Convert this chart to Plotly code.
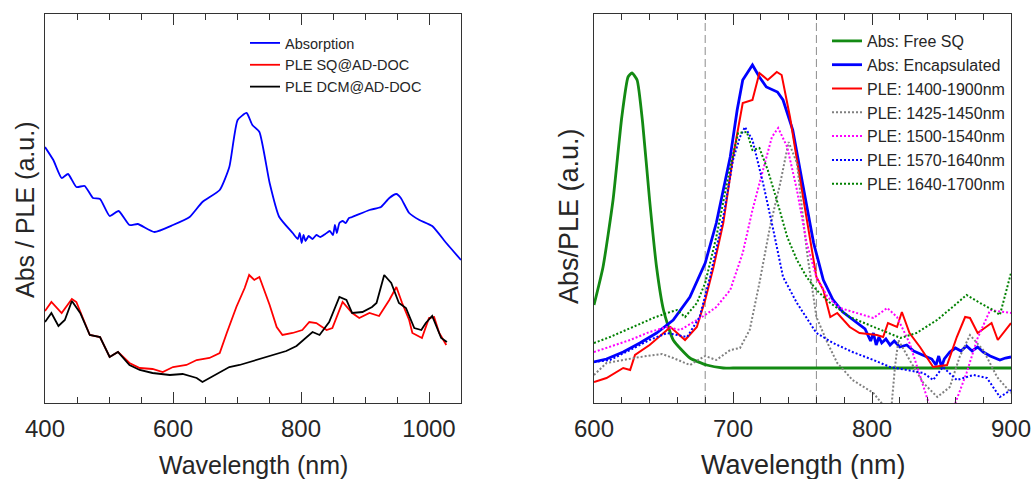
import plotly.graph_objects as go

W, H = 1036, 479

# ---------------- Left panel data ----------------
abs_wl = [400, 413, 426, 436, 449, 462, 475, 486, 501, 515, 532, 545, 571, 600, 626, 646, 673, 688,
          701, 715, 724, 735, 751, 766, 787, 795, 798, 801, 804, 807, 812, 818, 824, 830, 838, 845,
          850, 853, 856, 860, 865, 870, 875, 880, 907, 925, 938, 949, 956, 969, 985, 1005, 1027, 1050]
abs_val = [2.56, 2.43, 2.25, 2.29, 2.16, 2.17, 2.05, 2.04, 1.87, 1.92, 1.78, 1.79, 1.71, 1.78, 1.86, 2.01, 2.13, 2.36,
           2.83, 2.90, 2.78, 2.71, 2.20, 1.86, 1.70, 1.64, 1.70, 1.60, 1.68, 1.62, 1.67, 1.64, 1.68, 1.66, 1.69, 1.72,
           1.68, 1.78, 1.70, 1.80, 1.82, 1.80, 1.85, 1.86, 1.93, 1.96, 2.05, 2.09, 2.05, 1.90, 1.83, 1.77, 1.60, 1.43]

sq_wl = [400, 410, 426, 442, 449, 470, 486, 501, 514, 532, 548, 568, 584, 600, 621, 637, 657, 673, 684, 699,
         712, 719, 727, 735, 751, 762, 771, 787, 802, 813, 824, 840, 849, 865, 880, 891, 907, 922, 938, 949,
         958, 969, 974, 989, 1000, 1008, 1016, 1027]
sq_val = [0.92, 1.01, 0.90, 1.04, 1.01, 0.68, 0.66, 0.46, 0.51, 0.40, 0.35, 0.34, 0.31, 0.36, 0.38, 0.43, 0.45, 0.50, 0.70, 0.96,
          1.15, 1.28, 1.23, 1.26, 0.98, 0.76, 0.68, 0.70, 0.73, 0.81, 0.80, 0.73, 0.75, 1.01, 0.90, 0.85, 0.90, 0.87, 1.03, 1.16,
          1.00, 0.83, 0.70, 0.65, 0.85, 0.86, 0.70, 0.58]

dcm_wl = [400, 410, 421, 431, 442, 455, 470, 486, 501, 514, 532, 548, 568, 595, 615, 637, 646, 662, 688, 704,
          730, 755, 777, 793, 808, 818, 829, 844, 860, 871, 880, 896, 911, 918, 930, 941, 953, 964, 977, 988,
          995, 1005, 1019, 1028]
dcm_val = [0.81, 0.90, 0.77, 0.83, 1.02, 0.90, 0.68, 0.66, 0.46, 0.51, 0.38, 0.33, 0.30, 0.28, 0.29, 0.25, 0.21, 0.27, 0.36, 0.38,
           0.43, 0.48, 0.52, 0.57, 0.65, 0.71, 0.68, 0.81, 1.06, 1.03, 0.90, 0.91, 0.96, 1.00, 1.28, 1.20, 1.00, 0.95, 0.75, 0.73,
           0.80, 0.87, 0.65, 0.61]

# ---------------- Right panel data ----------------
free_wl = [600, 606.5, 613.7, 620, 624.5, 627.3, 631, 635, 640, 645, 650, 657, 669, 681, 693, 700, 900]
free_val = [0.98, 1.36, 2.03, 2.86, 3.26, 3.30, 3.23, 2.80, 2.03, 1.36, 0.93, 0.63, 0.45, 0.38, 0.35, 0.35, 0.35]

enc_wl = [600, 609, 621, 633, 645, 657, 669, 680, 688, 693, 698, 703, 707, 714, 719, 724, 732, 736, 743, 750,
          758, 765, 772, 779, 789, 795, 799, 801, 803, 805, 807, 810, 813, 816, 820, 825, 830, 837, 843, 846,
          848, 850, 852, 856, 860, 864, 868, 872, 876, 880, 885, 892, 896, 900]
enc_val = [0.41, 0.44, 0.51, 0.60, 0.70, 0.83, 1.06, 1.40, 1.80, 2.13, 2.46, 2.93, 3.23, 3.38, 3.26, 3.16, 3.11, 3.03, 2.73, 2.20,
           1.60, 1.23, 1.03, 0.91, 0.80, 0.74, 0.62, 0.70, 0.58, 0.66, 0.60, 0.64, 0.58, 0.62, 0.56, 0.58, 0.52, 0.48, 0.44, 0.38,
           0.47, 0.36, 0.44, 0.51, 0.55, 0.52, 0.57, 0.52, 0.56, 0.51, 0.47, 0.43, 0.45, 0.46]

p1400_wl = [600, 609, 621, 626, 629.5, 640, 655, 665.5, 674, 680, 686, 693, 700, 707, 714, 719, 725, 731.5, 735, 741,
            748, 755, 760, 765, 770, 775, 784, 791, 803.5, 808, 811.5, 818, 821.5, 827, 834.5, 844, 854, 861, 867, 870.5,
            876, 886, 890.5, 900]
p1400_val = [0.21, 0.25, 0.35, 0.33, 0.48, 0.58, 0.76, 0.63, 0.76, 1.03, 1.36, 1.80, 2.46, 3.00, 3.03, 3.30, 3.23, 3.31, 3.28, 2.86,
             2.26, 1.66, 1.26, 1.13, 0.86, 0.90, 0.76, 0.70, 0.68, 0.66, 0.80, 0.76, 0.91, 0.70, 0.56, 0.36, 0.38, 0.66, 0.86, 0.85,
             0.70, 0.80, 0.63, 0.80]

p1425_wl = [600, 609, 621, 633, 649, 657, 669, 680, 688, 698, 705, 712, 719, 726.6, 734, 740, 746, 753, 760, 768,
            775, 786, 801, 808, 814, 816.5, 819, 827, 837, 847, 856, 863, 870.5, 880, 890, 900]
p1425_val = [0.28, 0.40, 0.43, 0.46, 0.49, 0.45, 0.38, 0.47, 0.43, 0.53, 0.55, 0.73, 1.20, 1.76, 2.20, 2.61, 2.40, 1.53, 0.86, 0.60,
             0.40, 0.23, 0.10, -0.02, -0.04, 0.36, 0.63, 0.43, 0.20, 0.06, 0.16, 0.46, 0.68, 0.53, 0.26, 0.10]

p1500_wl = [600, 611.5, 626, 640, 652.5, 662, 674, 680, 688, 698, 707, 714, 721.6, 728, 732.5, 739, 746, 753, 760, 768,
            777, 789, 801, 811, 818, 827, 835, 841, 850, 860, 868, 876, 885, 900]
p1500_val = [0.51, 0.56, 0.63, 0.71, 0.76, 0.73, 0.83, 0.88, 0.96, 1.13, 1.50, 1.93, 2.33, 2.66, 2.75, 2.56, 2.13, 1.60, 1.26, 1.06,
             0.95, 0.90, 0.85, 0.95, 0.86, 0.60, 0.25, 0.00, -0.40, 0.00, 0.30, 0.65, 0.93, 0.90]

p1570_wl = [600, 611.5, 626, 640, 652.5, 667, 676, 683.5, 693, 700, 705, 708.6, 714, 721.6, 729, 736, 746, 760, 772, 786,
            801, 813, 825, 837, 844, 851, 861, 873, 882.7, 892, 900]
p1570_val = [0.41, 0.43, 0.53, 0.63, 0.70, 0.66, 0.86, 1.26, 1.86, 2.43, 2.66, 2.76, 2.63, 2.20, 1.73, 1.26, 1.00, 0.70, 0.60, 0.51,
             0.43, 0.36, 0.33, 0.30, 0.23, 0.36, 0.23, 0.28, 0.25, 0.06, 0.13]

p1640_wl = [600, 611.5, 628, 642.6, 652.5, 659.7, 665.5, 674, 680, 688, 698, 703.7, 710, 714, 719, 725, 731.5, 739, 746, 753,
            760, 770, 784, 801, 811, 820.5, 832, 846.8, 858, 868, 877.7, 887, 892, 900]
p1640_val = [0.60, 0.66, 0.76, 0.85, 0.90, 0.93, 0.86, 1.00, 1.20, 1.66, 2.36, 2.70, 2.71, 2.53, 2.55, 2.33, 2.03, 1.66, 1.43, 1.26,
             1.13, 1.00, 0.86, 0.76, 0.70, 0.65, 0.70, 0.83, 0.96, 1.08, 1.00, 0.93, 0.88, 1.30]

marker_lines_nm = [680, 760]

left_ticks = [400, 600, 800, 1000]
right_ticks = [600, 700, 800, 900]

FONT = "Liberation Sans, Arial, sans-serif"
TXT = "#262626"

fig = go.Figure()

SMOOTH = dict(shape="spline", smoothing=0.5)

# left panel
fig.add_trace(go.Scatter(x=abs_wl, y=abs_val, mode="lines", name="Absorption",
                         line=dict(color="#0000ff", width=1.8, **SMOOTH), xaxis="x", yaxis="y", legend="legend"))
fig.add_trace(go.Scatter(x=sq_wl, y=sq_val, mode="lines", name="PLE SQ@AD-DOC",
                         line=dict(color="#ff0000", width=1.8), xaxis="x", yaxis="y", legend="legend"))
fig.add_trace(go.Scatter(x=dcm_wl, y=dcm_val, mode="lines", name="PLE DCM@AD-DOC",
                         line=dict(color="#000000", width=1.8), xaxis="x", yaxis="y", legend="legend"))

# right panel
DOT = "2px,2px"
fig.add_trace(go.Scatter(x=free_wl, y=free_val, mode="lines", name="Abs: Free SQ",
                         line=dict(color="#138a13", width=2.8, **SMOOTH), xaxis="x2", yaxis="y2", legend="legend2"))
fig.add_trace(go.Scatter(x=enc_wl, y=enc_val, mode="lines", name="Abs: Encapsulated",
                         line=dict(color="#0000ff", width=2.8), xaxis="x2", yaxis="y2", legend="legend2"))
fig.add_trace(go.Scatter(x=p1400_wl, y=p1400_val, mode="lines", name="PLE: 1400-1900nm",
                         line=dict(color="#ff0000", width=2), xaxis="x2", yaxis="y2", legend="legend2"))
fig.add_trace(go.Scatter(x=p1425_wl, y=p1425_val, mode="lines", name="PLE: 1425-1450nm",
                         line=dict(color="#808080", width=2, dash=DOT), xaxis="x2", yaxis="y2", legend="legend2"))
fig.add_trace(go.Scatter(x=p1500_wl, y=p1500_val, mode="lines", name="PLE: 1500-1540nm",
                         line=dict(color="#ff00ff", width=2, dash=DOT), xaxis="x2", yaxis="y2", legend="legend2"))
fig.add_trace(go.Scatter(x=p1570_wl, y=p1570_val, mode="lines", name="PLE: 1570-1640nm",
                         line=dict(color="#0000ff", width=2, dash=DOT), xaxis="x2", yaxis="y2", legend="legend2"))
fig.add_trace(go.Scatter(x=p1640_wl, y=p1640_val, mode="lines", name="PLE: 1640-1700nm",
                         line=dict(color="#008000", width=2, dash=DOT), xaxis="x2", yaxis="y2", legend="legend2"))

for xv in marker_lines_nm:
    fig.add_shape(type="line", xref="x2", yref="y2 domain", x0=xv, x1=xv, y0=0, y1=1,
                  line=dict(color="#8c8c8c", width=1, dash="8px,4px"), layer="below")

ydom = [76 / H, 465 / H]
common_x = dict(showline=True, linecolor="#333333", linewidth=1.3, mirror="ticks",
                ticks="inside", ticklen=11, tickwidth=1.2, tickcolor="#333333",
                tickfont=dict(family=FONT, size=24, color=TXT), showgrid=False, zeroline=False,
                ticklabelstandoff=4, automargin=False)
common_y = dict(showline=True, linecolor="#333333", linewidth=1.3, mirror=True,
                ticks="", showticklabels=False, showgrid=False, zeroline=False, range=[0, 3.89],
                automargin=False)

fig.update_layout(
    width=W, height=H, margin=dict(l=0, r=0, t=0, b=0, autoexpand=False),
    paper_bgcolor="white", plot_bgcolor="white",
    font=dict(family=FONT, color=TXT),
    xaxis=dict(domain=[45 / W, 461 / W], range=[400, 1050], anchor="y",
               tickmode="array", tickvals=left_ticks,
               minor=dict(ticks="inside", ticklen=6, dtick=50, tick0=400, tickcolor="#333333", tickwidth=1.2),
               **common_x),
    yaxis=dict(domain=ydom, anchor="x", **common_y),
    xaxis2=dict(domain=[594 / W, 1011 / W], range=[600, 900], anchor="y2",
                tickmode="array", tickvals=right_ticks,
                minor=dict(ticks="inside", ticklen=6, dtick=20, tick0=600, tickcolor="#333333", tickwidth=1.2),
                **common_x),
    yaxis2=dict(domain=ydom, anchor="x2", **common_y),
    legend=dict(x=245 / W, y=1 - 27 / H, xanchor="left", yanchor="top", bgcolor="rgba(0,0,0,0)",
                font=dict(family=FONT, size=14.5, color=TXT), borderwidth=0),
    legend2=dict(x=827 / W, y=1 - 24 / H, xanchor="left", yanchor="top", bgcolor="rgba(0,0,0,0)",
                 font=dict(family=FONT, size=16, color=TXT), borderwidth=0),
    showlegend=True,
)

annos = [
    dict(text="Wavelength (nm)", x=253 / W, y=1 - 465 / H, size=25),
    dict(text="Wavelength (nm)", x=803 / W, y=1 - 465 / H, size=27),
    dict(text="Abs / PLE (a.u.)", x=25 / W, y=1 - 210 / H, size=25, textangle=-90),
    dict(text="Abs/PLE (a.u.)", x=569 / W, y=1 - 216 / H, size=27, textangle=-90),
]
for a in annos:
    fig.add_annotation(xref="paper", yref="paper", showarrow=False, xanchor="center", yanchor="middle",
                       text=a["text"], x=a["x"], y=a["y"], textangle=a.get("textangle", 0),
                       font=dict(family=FONT, color=TXT, size=a["size"]))

fig.write_html("out.html")
